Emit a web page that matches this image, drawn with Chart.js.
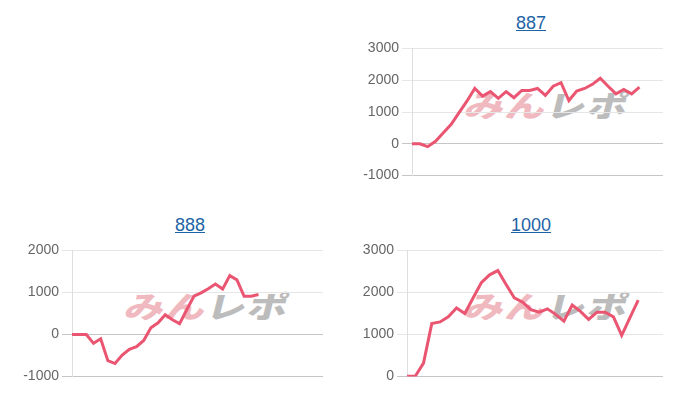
<!DOCTYPE html>
<html>
<head>
<meta charset="utf-8">
<script src="https://cdn.jsdelivr.net/npm/chart.js@4"></script>
<style>
  html, body { margin: 0; padding: 0; background: #fff; }
  body { width: 700px; height: 400px; position: relative; overflow: hidden; font-family: "Liberation Sans", Arial, sans-serif; }
  .title { position: absolute; width: 120px; margin-left: -60px; text-align: center; font-size: 18px; color: #1e63a6; text-decoration: underline; line-height: 20px; }
  .box { position: absolute; }
  .box canvas { position: relative; z-index: 2; }
  .mark { position: absolute; z-index: 1; font-family: "Noto Sans CJK JP", sans-serif; font-weight: 900; font-size: 30px; line-height: 30px; letter-spacing: 1px; transform-origin: 0 0; transform: skewX(-14deg) scaleX(1.32); white-space: nowrap; }
  .mark .a { color: #f0b9c0; }
  .mark .b { color: #bcbcbc; }
</style>
</head>
<body>

<div class="title" style="left:531px; top:13px;">887</div>
<div class="mark" style="left:470px; top:89px;"><span class="a">みん</span><span class="b">レポ</span></div>
<div class="box" style="left:352px; top:37px; width:311px; height:150px;"><canvas id="c887"></canvas></div>

<div class="title" style="left:190px; top:215px;">888</div>
<div class="mark" style="left:130px; top:290px;"><span class="a">みん</span><span class="b">レポ</span></div>
<div class="box" style="left:12px; top:239px; width:311px; height:149px;"><canvas id="c888"></canvas></div>

<div class="title" style="left:531px; top:215px;">1000</div>
<div class="mark" style="left:470px; top:290px;"><span class="a">みん</span><span class="b">レポ</span></div>
<div class="box" style="left:347px; top:239px; width:316px; height:149px;"><canvas id="c1000"></canvas></div>

<script>
// x categories (not shown on the page)
const labels887 = ['1','2','3','4','5','6','7','8','9','10','11','12','13','14','15','16','17','18','19','20','21','22','23','24','25','26','27','28','29','30','31','32','33'];
const labels888 = ['1','2','3','4','5','6','7','8','9','10','11','12','13','14','15','16','17','18','19','20','21','22','23','24','25','26','27','28','29','30','31','32','33','34','35','36'];
const labels1000 = ['1','2','3','4','5','6','7','8','9','10','11','12','13','14','15','16','17','18','19','20','21','22','23','24','25','26','27','28','29','30','31','32'];

// series values
const values887 = [0, 0, -90, 80, 350, 610, 980, 1340, 1740, 1500, 1640, 1430, 1640, 1450, 1680, 1680, 1740, 1520, 1810, 1920, 1360, 1660, 1740, 1870, 2060, 1810, 1570, 1710, 1570, 1780];
const values888 = [0, 0, 0, -210, -100, -620, -690, -490, -350, -290, -140, 160, 280, 470, 350, 260, 590, 910, 990, 1090, 1200, 1080, 1400, 1300, 910, 910, 950];
const values1000 = [10, 10, 320, 1260, 1300, 1420, 1630, 1500, 1870, 2230, 2420, 2520, 2190, 1870, 1770, 1590, 1530, 1610, 1480, 1320, 1700, 1550, 1360, 1530, 1530, 1420, 980, 1400, 1820];

// y axis ranges
const range887 = [-1000, 3000];
const range888 = [-1000, 2000];
const range1000 = [0, 3000];

function drawChart(id, labels, values, range) {
    return new Chart(document.getElementById(id), {
        type: 'line',
        data: {
            labels: labels,
            datasets: [{
                data: values,
                borderColor: '#ea5571',
                borderWidth: 3,
                pointRadius: 0,
                fill: false,
                tension: 0
            }]
        },
        options: {
            responsive: true,
            maintainAspectRatio: false,
            animation: false,
            events: [],
            layout: { padding: 0 },
            plugins: { legend: { display: false }, tooltip: { enabled: false } },
            scales: {
                x: { display: false },
                y: {
                    min: range[0],
                    max: range[1],
                    afterFit: s => { s.width = 60; },
                    ticks: {
                        stepSize: 1000,
                        padding: 3,
                        color: '#666',
                        font: { size: 14, family: '"Liberation Sans", Arial, sans-serif' },
                        callback: v => String(v)
                    },
                    grid: {
                        tickLength: 10,
                        color: c => (c.tick && (c.tick.value === 0 || c.index === 0)) ? '#c6c6c6' : '#e6e6e6'
                    },
                    border: { color: '#dedede' }
                }
            }
        }
    });
}

drawChart('c887', labels887, values887, range887);
drawChart('c888', labels888, values888, range888);
drawChart('c1000', labels1000, values1000, range1000);
</script>
</body>
</html>
